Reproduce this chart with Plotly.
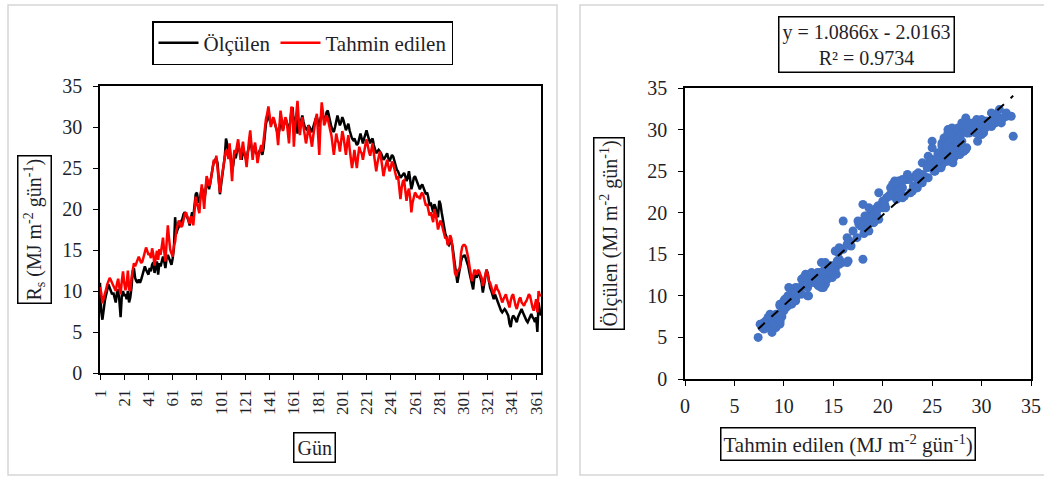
import plotly.graph_objects as go

# ---------------- data ----------------
days = list(range(1, 366))

tahmin = [  # predicted (red)
    10.5, 9.8, 8.5, 9.2, 9.6, 10.2, 10.8, 11.2, 11.6, 11.3,
    11.0, 10.6, 10.2, 10.0, 10.9, 11.5, 10.4, 9.6, 11.2, 12.4,
    11.0, 10.1, 10.8, 12.5, 10.2, 10.0, 11.6, 12.9, 13.4, 13.0,
    13.5, 14.0, 14.2, 13.8, 13.4, 13.6, 14.3, 14.8, 15.3, 14.9,
    14.4, 14.6, 14.0, 15.2, 14.5, 13.1, 14.2, 14.9, 13.8, 15.1,
    14.4, 15.6, 16.5, 14.8, 13.6, 15.9, 18.0, 16.4, 15.0, 14.6,
    14.2, 15.5, 16.0, 17.4, 18.1, 18.6, 18.3, 17.8, 18.0, 19.0,
    19.4, 19.6, 19.1, 18.6, 18.2, 19.1, 18.9, 18.0, 20.3, 21.5,
    20.8, 20.2, 19.5, 21.4, 23.0, 21.6, 20.0, 22.2, 24.0, 23.5,
    22.8, 23.1, 24.2, 25.3, 26.0, 25.6, 26.5, 25.0, 23.6, 22.0,
    23.4, 24.6, 25.2, 26.3, 27.2, 27.0, 26.1, 28.0, 25.6, 23.4,
    25.9, 27.2, 26.8, 27.5, 28.5, 27.4, 26.0, 27.1, 28.2, 27.0,
    26.4, 25.1, 27.0, 28.4, 29.6, 27.2, 26.0, 27.4, 28.1, 27.0,
    25.6, 26.5, 27.4, 27.8, 27.0, 28.2, 30.0, 31.0, 31.6, 32.5,
    31.4, 30.0, 30.6, 31.2, 30.8, 30.0, 29.4, 27.8, 30.2, 32.0,
    31.0, 29.5, 30.4, 31.2, 30.8, 29.6, 28.0, 30.6, 32.5, 31.8,
    27.6, 30.0, 32.2, 33.2, 31.0, 29.0, 30.4, 31.2, 30.0, 29.2,
    28.0, 28.8, 30.2, 29.4, 28.6, 27.6, 28.9, 30.1, 31.0, 31.6,
    29.0, 26.6, 30.5, 33.0, 31.8, 30.2, 30.6, 31.4, 31.0, 30.0,
    29.6, 29.0, 28.0, 26.6, 27.8, 29.2, 28.4, 28.0, 27.0, 28.6,
    29.5, 28.8, 27.6, 26.6, 28.0, 29.0, 27.4, 26.2, 25.0, 26.0,
    27.2, 26.0, 25.0, 26.4, 27.6, 27.0, 26.8, 26.0, 27.2, 27.8,
    28.5, 27.6, 27.0, 26.5, 27.4, 28.0, 26.8, 25.6, 24.6, 25.6,
    26.6, 27.0, 26.2, 25.0, 24.0, 24.8, 25.6, 26.0, 25.2, 24.6,
    25.0, 25.8, 25.5, 24.8, 24.5, 23.6, 24.0, 22.8, 21.2, 22.6,
    23.4, 23.5, 22.4, 21.0, 22.0, 22.5, 21.4, 19.6, 20.8, 21.6,
    22.0, 21.8, 21.4, 21.6, 21.2, 21.8, 22.0, 21.6, 20.8, 20.4,
    20.6, 20.0, 19.2, 19.6, 19.0, 18.4, 20.0, 19.4, 18.6, 17.5,
    18.0, 18.6, 18.2, 17.6, 17.0, 16.4, 16.6, 15.6, 16.0, 16.8,
    16.4, 15.2, 13.8, 12.2, 11.8, 12.4, 12.6, 12.8, 14.6, 15.4,
    15.6, 15.6, 15.4, 14.8, 14.0, 13.0, 12.0, 11.2, 11.8, 12.6,
    12.4, 12.0, 12.6, 12.4, 12.0, 11.6, 10.6, 11.4, 12.0, 12.6,
    12.0, 11.2, 11.0, 10.4, 10.0, 9.6, 10.2, 10.8, 10.2, 10.0,
    9.6, 9.0, 8.6, 9.0, 9.4, 9.6, 9.0, 8.4, 8.0, 8.8,
    9.4, 9.6, 8.6, 8.2, 7.8, 8.4, 9.0, 9.2, 8.6, 8.4,
    8.2, 8.6, 8.8, 9.2, 9.6, 9.4, 8.6, 8.0, 7.6, 8.2,
    9.0, 7.4, 10.0, 9.4, 9.6,
]

olculen = [  # measured (black)
    11.0, 7.5, 6.5, 7.8, 8.8, 9.5, 10.2, 10.8, 10.4, 10.0,
    9.6, 9.8, 9.2, 8.6, 9.8, 10.2, 8.8, 6.8, 9.4, 10.0,
    9.4, 9.6, 9.0, 10.0, 8.6, 9.2, 10.4, 12.4, 12.8, 11.6,
    11.2, 11.0, 11.4, 11.0, 11.4, 12.0, 12.4, 13.0, 12.6, 12.2,
    12.0, 12.8, 12.4, 13.2, 13.5, 12.2, 12.8, 13.6, 12.0, 13.4,
    13.0, 13.8, 14.2, 13.6, 12.8, 14.0, 14.4, 14.0, 13.6, 13.2,
    14.0, 15.2, 19.0, 17.0, 17.5, 17.8, 18.2, 18.4, 18.8, 19.4,
    19.6, 19.2, 19.0, 18.6, 18.0, 18.8, 19.6, 19.0, 20.6, 21.8,
    22.0, 21.0, 20.8, 21.6, 22.6, 22.2, 21.0, 22.0, 23.6, 23.0,
    22.4, 23.2, 24.4, 25.0, 25.8, 26.0, 26.2, 25.6, 24.0, 21.8,
    23.0, 24.2, 25.0, 26.4, 28.6, 28.0, 27.2, 27.6, 26.4, 24.6,
    25.4, 26.6, 26.2, 27.0, 27.8, 27.2, 26.4, 26.0, 27.4, 26.8,
    26.2, 25.8, 27.0, 27.6, 28.6, 27.6, 26.6, 27.2, 27.4, 26.8,
    26.6, 26.8, 27.2, 27.0, 26.6, 27.4, 29.4, 30.4, 31.0, 31.6,
    30.8, 30.4, 30.6, 30.8, 30.6, 30.2, 29.6, 29.0, 29.6, 30.8,
    30.4, 29.6, 30.2, 31.0, 30.6, 30.0, 29.8, 30.6, 32.0, 32.4,
    30.0, 30.6, 31.4, 29.2, 30.8, 30.2, 31.0, 31.4, 30.6, 30.0,
    29.8, 29.6, 30.2, 30.0, 29.6, 29.4, 30.0, 30.6, 31.0, 31.2,
    30.6, 30.0, 31.0, 31.6, 31.4, 30.8, 31.0, 31.8, 32.0, 31.2,
    30.6, 30.0, 29.6, 29.4, 30.0, 30.8, 31.4, 30.8, 30.2, 30.6,
    31.2, 30.8, 30.2, 29.6, 30.0, 30.4, 29.6, 29.0, 28.6, 28.4,
    28.6, 28.2, 27.8, 28.0, 28.8, 29.2, 28.6, 28.0, 28.6, 29.2,
    29.6, 29.0, 28.6, 28.0, 28.4, 28.6, 27.8, 27.2, 26.8, 27.0,
    27.2, 27.0, 26.8, 26.4, 26.0, 26.2, 26.6, 26.8, 26.2, 25.8,
    26.2, 26.6, 26.4, 25.8, 25.4, 24.8, 24.6, 24.2, 23.8, 24.0,
    24.2, 24.4, 24.0, 23.4, 23.8, 24.6, 23.6, 22.4, 23.0, 23.8,
    24.0, 23.6, 23.2, 22.8, 22.4, 22.8, 23.0, 22.6, 22.2, 21.8,
    22.0, 21.4, 20.4, 20.8, 20.2, 19.6, 20.6, 20.2, 19.4, 19.0,
    21.0, 20.6, 19.6, 18.6, 17.8, 17.0, 16.6, 15.8, 15.6, 16.0,
    16.2, 15.4, 14.0, 12.6, 12.0, 11.0, 12.0, 12.8, 13.6, 14.2,
    14.2, 14.4, 14.0, 13.6, 13.0, 12.2, 11.4, 10.8, 10.2, 11.6,
    12.0, 11.6, 12.4, 12.2, 11.6, 11.0, 9.8, 10.6, 11.6, 12.6,
    12.2, 11.0, 10.4, 10.0, 9.4, 9.0, 9.6, 9.2, 8.6, 8.2,
    7.8, 7.6, 7.4, 7.6, 7.8, 7.6, 7.2, 7.0, 6.0, 5.6,
    6.6, 7.0, 6.8, 6.4, 6.2, 6.8, 7.2, 7.6, 7.8, 7.4,
    7.0, 6.8, 6.4, 6.2, 6.6, 7.0, 7.2, 6.8, 6.6, 6.2,
    6.8, 5.0, 8.6, 7.6, 7.0,
]

day_ticks = list(range(1, 362, 20))
axis_ticks = [0, 5, 10, 15, 20, 25, 30, 35]
slope = 1.0866
intercept = -2.0163
r2 = 0.9734

# ---------------- figure ----------------
W, H = 1044, 477
def px(x):
    return x / W
def py(y):
    return 1 - y / H

SERIF = "Liberation Serif, Times New Roman, serif"
TXT = "#1f1f2a"
fig = go.Figure()

fig.add_trace(go.Scatter(x=days, y=olculen, mode="lines", name="Ölçülen",
                         line=dict(color="#000000", width=2.5), xaxis="x", yaxis="y"))
fig.add_trace(go.Scatter(x=days, y=tahmin, mode="lines", name="Tahmin edilen",
                         line=dict(color="#FF0000", width=2.5), xaxis="x", yaxis="y"))

fig.add_trace(go.Scatter(x=tahmin, y=olculen, mode="markers", showlegend=False,
                         marker=dict(color="#4472C4", size=9, line=dict(width=0)),
                         xaxis="x2", yaxis="y2"))
x_lo, x_hi = min(tahmin), max(tahmin)
fig.add_trace(go.Scatter(x=[x_lo, x_hi], y=[slope * x_lo + intercept, slope * x_hi + intercept],
                         mode="lines", showlegend=False,
                         line=dict(color="#000000", width=2, dash="dash"),
                         xaxis="x2", yaxis="y2"))

axis_common = dict(showline=True, linecolor="black", linewidth=1.5, mirror=True,
                   ticks="outside", ticklen=5, tickcolor="black", showgrid=False,
                   zeroline=False, automargin=False)
tick_font = dict(family=SERIF, size=20, color=TXT)

fig.update_layout(
    width=W, height=H,
    margin=dict(l=0, r=0, t=0, b=0, pad=0, autoexpand=False),
    paper_bgcolor="white", plot_bgcolor="white",
    xaxis=dict(domain=[px(100), px(541)], range=[1, 365], anchor="y",
               tickvals=day_ticks, ticktext=[str(d) for d in day_ticks], tickangle=-90,
               ticklabelstandoff=3,
               tickfont=dict(family=SERIF, size=17, color=TXT), **axis_common),
    yaxis=dict(domain=[py(373), py(86)], range=[0, 35], anchor="x",
               tickvals=axis_ticks, tickfont=tick_font, ticklabelstandoff=7, **axis_common),
    xaxis2=dict(domain=[px(685), px(1031)], range=[0, 35], anchor="y2",
                tickvals=axis_ticks, tickfont=tick_font, ticklabelstandoff=3, **axis_common),
    yaxis2=dict(domain=[py(379), py(88)], range=[0, 35], anchor="x2",
                tickvals=axis_ticks, tickfont=tick_font, ticklabelstandoff=7, **axis_common),
    legend=dict(orientation="h", x=px(152), y=py(21), xanchor="left", yanchor="top",
                bordercolor="black", borderwidth=1.5, bgcolor="white",
                font=dict(family=SERIF, size=21, color=TXT),
                itemwidth=40, tracegroupgap=0),
    showlegend=True,
)

shapes = [
    dict(type="rect", xref="paper", yref="paper", x0=px(8), x1=px(557), y0=py(475), y1=py(5),
         line=dict(color="#d6d6d6", width=1.5), layer="below"),
    dict(type="rect", xref="paper", yref="paper", x0=px(580), x1=px(1050), y0=py(475), y1=py(5),
         line=dict(color="#d6d6d6", width=1.5), layer="below"),
]
fig.update_layout(shapes=shapes)

ann_font = dict(family=SERIF, size=20, color=TXT)
common_ann = dict(showarrow=False, xref="paper", yref="paper", xanchor="center",
                  yanchor="middle", bordercolor="black", borderwidth=1.5)
annotations = [
    dict(text="R<sub>s</sub> (MJ m<sup>-2</sup> gün<sup>-1</sup>)", x=px(35), y=py(230),
         textangle=-90, borderpad=2, font=ann_font, **common_ann),
    dict(text="Gün", x=px(314), y=py(447), borderpad=3, font=ann_font, **common_ann),
    dict(text="Ölçülen (MJ m<sup>-2</sup> gün<sup>-1</sup>)", x=px(609), y=py(234),
         textangle=-90, borderpad=2, font=ann_font, **common_ann),
    dict(text="Tahmin edilen (MJ m<sup>-2</sup> gün<sup>-1</sup>)", x=px(848), y=py(444),
         borderpad=2, font=dict(family=SERIF, size=21, color=TXT), **common_ann),
    dict(text=f"y = {slope:.4f}x - {abs(intercept):.4f}<br>R² = {r2:.4f}", x=px(866), y=py(45),
         borderpad=3, font=dict(family=SERIF, size=20, color=TXT), **common_ann),
]
fig.update_layout(annotations=annotations)

fig.write_html("out.html", config={"displayModeBar": False},
               post_script="document.body.style.margin='0';")
